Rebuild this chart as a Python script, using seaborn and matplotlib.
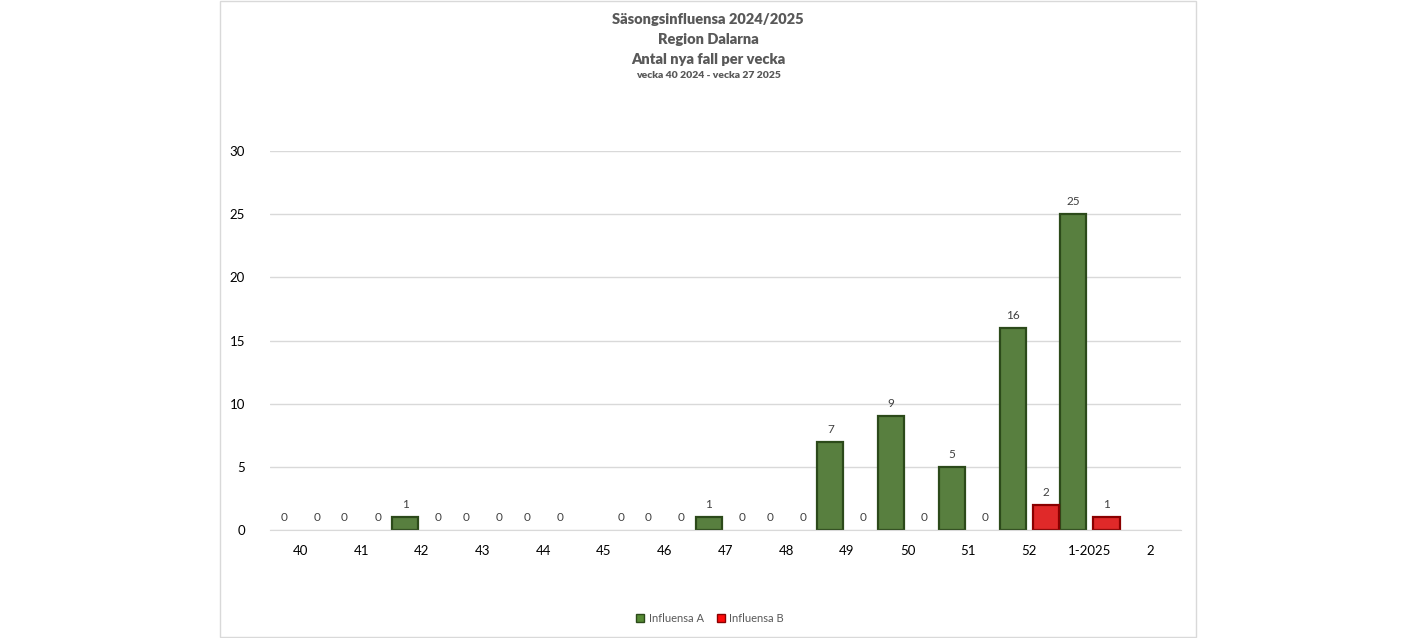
import numpy as np
import pandas as pd
import matplotlib
matplotlib.use("Agg")
import matplotlib.pyplot as plt
import seaborn as sns
from matplotlib.patches import Rectangle

# week labels and weekly case counts (nan = no value reported)
weeks = ["40", "41", "42", "43", "44", "45", "46", "47", "48", "49", "50", "51", "52", "1-2025", "2"]
influensa_a = [0, 0, 1, 0, 0, np.nan, 0, 1, 0, 7, 9, 5, 16, 25, np.nan]
influensa_b = [0, 0, 0, 0, 0, 0, 0, 0, 0, 0, 0, 0, 2, 1, np.nan]

df = pd.DataFrame({"Vecka": weeks * 2,
                   "Antal": influensa_a + influensa_b,
                   "Typ": ["Influensa A"] * len(weeks) + ["Influensa B"] * len(weeks)})
df = df.dropna()

sns.set_style("white")
plt.rcParams["font.family"] = ["Lato", "DejaVu Sans"]

fig = plt.figure(figsize=(14.16, 6.38), dpi=100)
# chart area border
fig.patches.append(Rectangle((220 / 1416, 1 / 638), 976 / 1416, 636 / 638, transform=fig.transFigure,
                             fill=False, edgecolor="#d9d9d9", linewidth=1))
ax = fig.add_axes([270 / 1416, 108 / 638, 911 / 1416, 379 / 638])

palette = {"Influensa A": "#568a34", "Influensa B": "#ff0a0a"}
edges = {"Influensa A": "#2c4a1a", "Influensa B": "#8a0000"}
sns.barplot(data=df, x="Vecka", y="Antal", hue="Typ", order=weeks,
            hue_order=["Influensa A", "Influensa B"], palette=palette,
            width=1.09, gap=0.21, ax=ax, legend=False)

for cont, typ in zip(ax.containers, ["Influensa A", "Influensa B"]):
    for bar in cont:
        bar.set_edgecolor(edges[typ])
        bar.set_linewidth(1.6 if bar.get_height() > 0 else 0)
    ax.bar_label(cont, fmt="%d", padding=5, fontsize=8.5, color="#404040")

ax.set_ylim(0, 30)
ax.set_yticks(range(0, 31, 5))
ax.yaxis.grid(True, color="#d9d9d9", linewidth=1)
ax.set_axisbelow(True)
for s in ["top", "right", "left"]:
    ax.spines[s].set_visible(False)
ax.spines["bottom"].set_color("#d9d9d9")
ax.tick_params(axis="both", length=0, labelsize=9.5, colors="#000000")
ax.tick_params(axis="x", pad=11)
ax.tick_params(axis="y", pad=18)
ax.set_xlabel("")
ax.set_ylabel("")

# titles
fig.text(708 / 1416, 1 - 19 / 638, "Säsongsinfluensa 2024/2025", ha="center", va="center",
         fontsize=10.5, fontweight="heavy", color="#595959")
fig.text(708 / 1416, 1 - 40 / 638, "Region Dalarna", ha="center", va="center",
         fontsize=10.5, fontweight="heavy", color="#595959")
fig.text(708 / 1416, 1 - 59 / 638, "Antal nya fall per vecka", ha="center", va="center",
         fontsize=10.5, fontweight="heavy", color="#595959")
fig.text(708 / 1416, 1 - 75 / 638, "vecka 40 2024 - vecka 27 2025", ha="center", va="center",
         fontsize=7.5, fontweight="heavy", color="#595959")

# legend
handles = [Rectangle((0, 0), 1, 1, facecolor=palette[k], edgecolor=edges[k]) for k in palette]
fig.legend(handles, list(palette.keys()), loc="center", bbox_to_anchor=(710 / 1416, 1 - 618 / 638),
           ncol=2, frameon=False, fontsize=8, handlelength=0.7, handleheight=0.7,
           handletextpad=0.4, columnspacing=1.2, labelcolor="#595959")

fig.savefig("out.png", dpi=100, facecolor="white")
